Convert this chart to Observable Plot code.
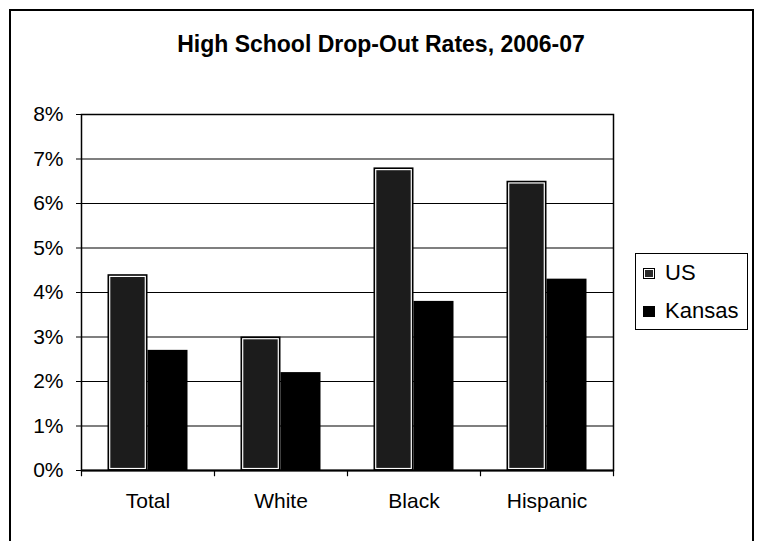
<!DOCTYPE html>
<html>
<head>
<meta charset="utf-8">
<script src="https://cdn.jsdelivr.net/npm/d3@7"></script>
<script src="https://cdn.jsdelivr.net/npm/@observablehq/plot@0.6"></script>
<style>
  html, body { margin: 0; padding: 0; background: #fff; }
  #wrap { position: relative; width: 758px; height: 541px; overflow: hidden; font-family: "Liberation Sans", Arial, sans-serif; }
  #frame { position: absolute; left: 9px; top: 9px; width: 745px; height: 600px; border: 2px solid #000; box-sizing: border-box; pointer-events: none; }
  #title { position: absolute; left: 2px; width: 758px; top: 31px; text-align: center; font-weight: bold; font-size: 23px; color: #000; }
  #legend { position: absolute; left: 635px; top: 253px; width: 113px; height: 77px; border: 1px solid #000; box-sizing: border-box; background: #fff; }
  .li { position: absolute; left: 7px; font-size: 22px; line-height: 22px; color: #000; white-space: nowrap; }
  .sw { display: inline-block; width: 12px; height: 11px; margin-right: 10px; vertical-align: 1px; box-sizing: border-box; }
</style>
</head>
<body>
<div id="wrap">
  <div id="chart"></div>
  <div id="frame"></div>
  <div id="title">High School Drop-Out Rates, 2006-07</div>
  <div id="legend"></div>
</div>
<script>
const categories = ["Total", "White", "Black", "Hispanic"];
const series = ["US", "Kansas"];
const usValues = [4.4, 3.0, 6.8, 6.5];
const kansasValues = [2.7, 2.2, 3.8, 4.3];
const yTicks = [0, 1, 2, 3, 4, 5, 6, 7, 8];

const usData = categories.map((c, i) => ({category: c, series: "US", value: usValues[i]}));
const ksData = categories.map((c, i) => ({category: c, series: "Kansas", value: kansasValues[i]}));

const W = 758, H = 541, mL = 81, mR = 145, mT = 114, mB = 71;
const band = (W - mL - mR) / categories.length;
const barW = 40;
const gap = (band - 2 * barW) / 2;

const chart = Plot.plot({
  width: W,
  height: H,
  marginLeft: mL,
  marginRight: mR,
  marginTop: mT,
  marginBottom: mB,
  style: {fontFamily: "'Liberation Sans', Arial, sans-serif", background: "transparent", color: "#000"},
  x: {domain: categories, padding: 0, axis: null, label: null},
  y: {domain: [0, 8], axis: null, label: null},
  marks: [
    Plot.gridY(yTicks, {stroke: "#000", strokeOpacity: 1, strokeWidth: 1.2}),
    // US bars: black outline, white inner border, dark stippled fill
    Plot.barY(usData, {x: "category", y: "value", fill: "#000", insetLeft: gap, insetRight: band - gap - barW}),
    Plot.barY(usData, {x: "category", y: "value", fill: "#1c1c1c", stroke: "#fff", strokeWidth: 1.2,
      insetLeft: gap + 2.2, insetRight: band - gap - barW + 2.2, insetTop: 2.2, insetBottom: 1.5}),
    // Kansas bars
    Plot.barY(ksData, {x: "category", y: "value", fill: "#000", insetLeft: gap + barW, insetRight: gap}),
    Plot.frame({stroke: "#000", strokeWidth: 1.5}),
    Plot.ruleY([0], {stroke: "#000", strokeWidth: 2}),
    Plot.axisY(yTicks, {tickSize: 5, tickPadding: 13, fontSize: 21, tickFormat: d => d + "%", stroke: "#000", label: null}),
    Plot.axisX({tickSize: 0, tickPadding: 23, fontSize: 21, label: null}),
    Plot.ruleX(categories, {x: d => d, dx: -band / 2, y1: 0, y2: -0.14, stroke: "#000", strokeWidth: 1.2}),
    Plot.ruleX([categories[categories.length - 1]], {x: d => d, dx: band / 2, y1: 0, y2: -0.14, stroke: "#000", strokeWidth: 1.2})
  ]
});
document.getElementById("chart").appendChild(chart);

const legend = document.getElementById("legend");
const swStyles = {
  US: "background:#2a2a2a; border:1.5px solid #000; box-shadow: inset 0 0 0 1px #fff;",
  Kansas: "background:#000;"
};
series.forEach((s, i) => {
  const d = document.createElement("div");
  d.className = "li";
  d.style.top = (8 + i * 38) + "px";
  d.innerHTML = `<span class="sw" style="${swStyles[s]}"></span>${s}`;
  legend.appendChild(d);
});
</script>
</body>
</html>
